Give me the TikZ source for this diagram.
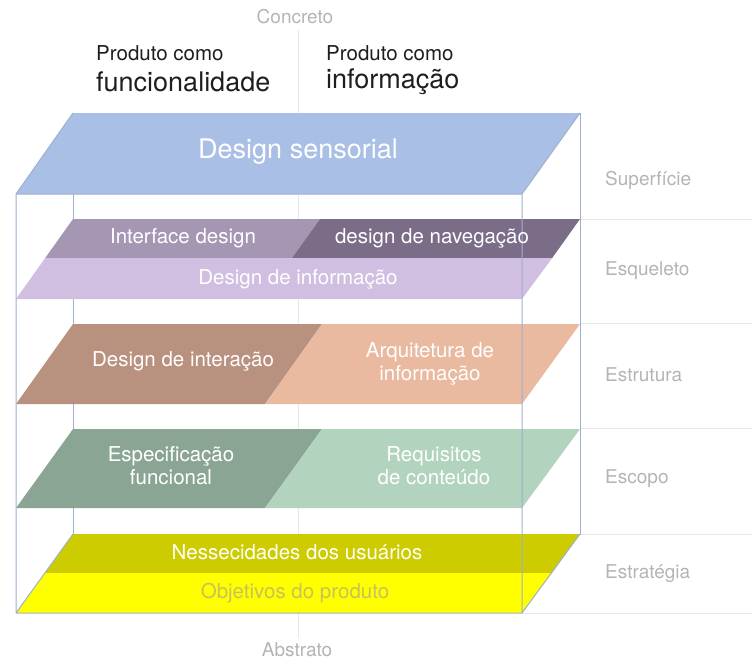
\documentclass[tikz,border=0pt]{standalone}
\usepackage{fontspec}
\setmainfont{TeX Gyre Heros}
\definecolor{sensorial}{HTML}{A9BFE5}
\definecolor{interface}{HTML}{A596B4}
\definecolor{navegacao}{HTML}{7B6C88}
\definecolor{informacao}{HTML}{D0BFE1}
\definecolor{interacao}{HTML}{B8917F}
\definecolor{arquitetura}{HTML}{E9B9A0}
\definecolor{especificacao}{HTML}{8BA595}
\definecolor{requisitos}{HTML}{B2D3BD}
\definecolor{necessidades}{HTML}{CCCC00}
\definecolor{objetivos}{HTML}{FFFF00}
\definecolor{objtext}{HTML}{C9C25A}
\definecolor{wireblue}{HTML}{9DB0CF}
\definecolor{gridgray}{HTML}{E8E8E8}
\definecolor{sidegray}{HTML}{B4B4B4}
\definecolor{headtext}{HTML}{1E1E1E}

\begin{document}
\begin{tikzpicture}[x=1pt, y=-1pt,
  txt/.style={text=white, font=\fontsize{20.5}{23}\selectfont, align=center, inner sep=0pt},
  side/.style={right, text=sidegray, font=\fontsize{19}{22}\selectfont, inner sep=0pt},
  head/.style={right, text=headtext, inner sep=0pt},
  wire/.style={draw=wireblue, line width=1pt}]
  \useasboundingbox (0,0) rectangle (752,661);

  \draw[gridgray, line width=1pt] (298,30) -- (298,638);
  \draw[gridgray, line width=1pt]
    (580,219) -- (752,219) (580,323) -- (752,323) (580,428) -- (752,428)
    (580,534) -- (752,534) (522,613) -- (752,613);

  % back of the box, behind the planes
  \draw[wire] (73,113) rectangle (580,534);

  \fill[sensorial] (73,113) -- (580,113) -- (522,194) -- (16,194) -- cycle;

  \fill[interface] (73,219) -- (320,219) -- (292,258) -- (45.2,258) -- cycle;
  \fill[navegacao] (320,219) -- (580,219) -- (552.2,258) -- (292,258) -- cycle;
  \fill[informacao] (45.2,258) -- (552.2,258) -- (522,299) -- (16,299) -- cycle;

  \fill[interacao] (73,324) -- (322,324) -- (265,404) -- (16,404) -- cycle;
  \fill[arquitetura] (322,324) -- (580,324) -- (522,404) -- (265,404) -- cycle;

  \fill[especificacao] (73,429) -- (322,429) -- (265,508) -- (16,508) -- cycle;
  \fill[requisitos] (322,429) -- (580,429) -- (522,508) -- (265,508) -- cycle;

  \fill[necessidades] (73,534) -- (580,534) -- (551.9,573) -- (44.9,573) -- cycle;
  \fill[objetivos] (44.9,573) -- (551.9,573) -- (522,613) -- (16,613) -- cycle;

  % front of the box
  \draw[wire] (16,194) rectangle (522,613)
    (73,113) -- (16,194) (580,113) -- (522,194)
    (73,534) -- (16,613) (580,534) -- (522,613);

  \node[txt, font=\fontsize{27}{30}\selectfont] (sens) at (298,152) {Design sensorial};
  \node[txt] (intf) at (183,238) {Interface design};
  \node[txt] (navg) at (432,238) {design de navegação};
  \node[txt] (info) at (298,279) {Design de informação};
  \node[txt] (intr) at (183,361) {Design de interação};
  \node[txt] (arqu) at (430,364) {Arquitetura de\\informação};
  \node[txt] (espe) at (171,466) {Especificação\\funcional};
  \node[txt] (requ) at (434,466) {Requisitos\\de conteúdo};
  \node[txt] (ness) at (297,552) {Nessecidades dos usuários};
  \node[txt, text=objtext] (obje) at (295,593) {Objetivos do produto};

  \node[side] (sup) at (605,180) {Superfície};
  \node[side] (esq) at (605,271) {Esqueleto};
  \node[side] (est) at (605,375) {Estrutura};
  \node[side] (esc) at (605,479) {Escopo};
  \node[side] (etg) at (605,574) {Estratégia};

  \node[text=sidegray, font=\fontsize{19}{22}\selectfont] (conc) at (295,17) {Concreto};
  \node[text=sidegray, font=\fontsize{19}{22}\selectfont] (abst) at (297,650) {Abstrato};

  \node[head, font=\fontsize{20.5}{23}\selectfont] (pf) at (96,53) {Produto como};
  \node[head, font=\fontsize{27}{30}\selectfont] (func) at (96,82) {funcionalidade};
  \node[head, font=\fontsize{20.5}{23}\selectfont] (pi) at (326,53) {Produto como};
  \node[head, font=\fontsize{27}{30}\selectfont] (inf) at (326,82) {informação};
\end{tikzpicture}
\end{document}
